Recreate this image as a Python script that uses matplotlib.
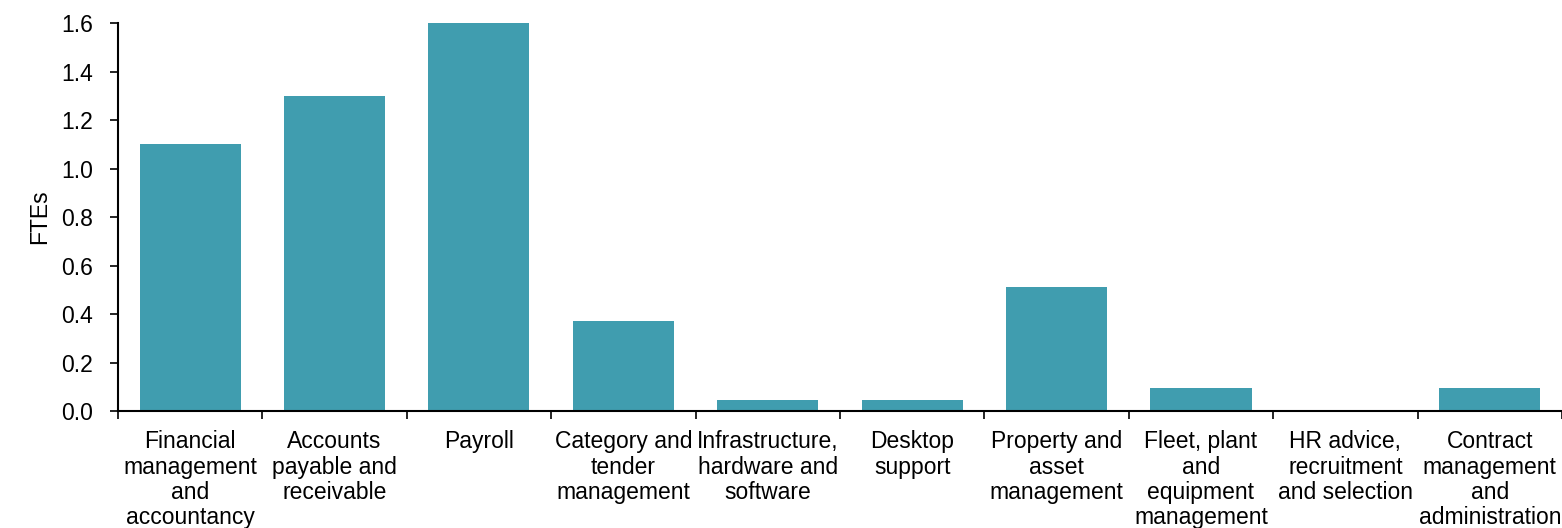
import matplotlib.pyplot as plt
import numpy as np

categories = [
    "Financial\nmanagement\nand\naccountancy",
    "Accounts\npayable and\nreceivable",
    "Payroll",
    "Category and\ntender\nmanagement",
    "Infrastructure,\nhardware and\nsoftware",
    "Desktop\nsupport",
    "Property and\nasset\nmanagement",
    "Fleet, plant\nand\nequipment\nmanagement",
    "HR advice,\nrecruitment\nand selection",
    "Contract\nmanagement\nand\nadministration",
]
ftes = [1.1, 1.3, 1.6, 0.37, 0.045, 0.045, 0.51, 0.095, 0.0, 0.095]
y_ticks = [0.0, 0.2, 0.4, 0.6, 0.8, 1.0, 1.2, 1.4, 1.6]

plt.rcParams['font.family'] = ['Liberation Sans', 'DejaVu Sans']
plt.rcParams['font.size'] = 16.5

fig = plt.figure(figsize=(15.62, 5.28), dpi=100)
ax = fig.add_axes([0.0755, 0.2216, 0.9245, 0.7344])

x = np.arange(len(categories))
ax.bar(x, ftes, width=0.7, color='#409DAF')

ax.set_xlim(-0.5, len(categories) - 0.5)
ax.set_ylim(0, 1.6)
ax.set_yticks(y_ticks)
ax.set_yticklabels([f"{v:.1f}" for v in y_ticks])
ax.set_ylabel("FTEs", labelpad=7)

ax.set_xticks(x)
ax.set_xticklabels(categories, linespacing=1.12)
ax.tick_params(axis='x', length=0, pad=14)
ax.set_xticks(np.arange(len(categories) + 1) - 0.5, minor=True)
ax.tick_params(axis='x', which='minor', length=6, width=1.2, direction='out')
ax.tick_params(axis='y', length=6, width=1.2, direction='out', pad=12)

for s in ['top', 'right']:
    ax.spines[s].set_visible(False)
for s in ['left', 'bottom']:
    ax.spines[s].set_linewidth(1.5)

fig.savefig("out.png", dpi=100)
